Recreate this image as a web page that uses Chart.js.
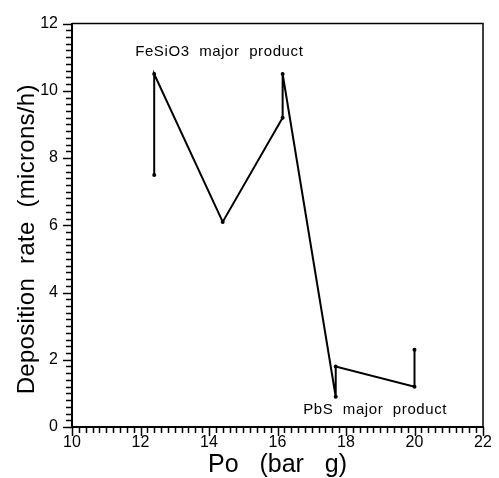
<!DOCTYPE html>
<html>
<head>
<meta charset="utf-8">
<script src="https://cdn.jsdelivr.net/npm/chart.js@4/dist/chart.umd.min.js"></script>
<style>
  html, body { margin: 0; padding: 0; background: #fff; }
</style>
</head>
<body>
<canvas id="chart" width="499" height="478"></canvas>
<script>
// Po (bar g) vs deposition rate (microns/h), traced in drawing order
const poValues = [12.4, 12.4, 14.4, 16.15, 16.15, 17.7, 17.7, 20.0, 20.0];
const rateValues = [7.5, 10.5, 6.1, 9.2, 10.5, 0.9, 1.8, 1.2, 2.3];
const xTicks = [10, 12, 14, 16, 18, 20, 22];
const yTicks = [0, 2, 4, 6, 8, 10, 12];
const noteLabels = ['FeSiO3  major  product', 'PbS  major  product'];

const FONT = '"Liberation Sans", Arial, sans-serif';

const framePlugin = {
  id: 'frame',
  afterDraw(chart, args, opts) {
    const { ctx, chartArea: a, scales: { x, y } } = chart;
    ctx.save();
    ctx.strokeStyle = '#000';
    ctx.fillStyle = '#000';

    // minor ticks every 0.2, longer on the labelled values
    ctx.lineWidth = 1.5;
    for (let i = 0; i <= 60; i++) {
      const len = i % 10 === 0 ? 9 : 6;
      const px = Math.round(x.getPixelForValue(10 + i * 0.2)) + 0.5;
      ctx.beginPath();
      ctx.moveTo(px, a.bottom);
      ctx.lineTo(px, a.bottom + len);
      ctx.stroke();
      const py = Math.round(y.getPixelForValue(i * 0.2)) + 0.5;
      ctx.beginPath();
      ctx.moveTo(a.left - len, py);
      ctx.lineTo(a.left, py);
      ctx.stroke();
    }

    // top and right sides of the box
    ctx.lineWidth = 1.5;
    ctx.beginPath();
    ctx.moveTo(a.left, a.top);
    ctx.lineTo(a.right, a.top);
    ctx.lineTo(a.right, a.bottom);
    ctx.stroke();

    // notes
    ctx.font = '15px ' + FONT;
    ctx.letterSpacing = '0.6px';
    ctx.textAlign = 'center';
    ctx.textBaseline = 'middle';
    opts.notes.forEach((n, i) => {
      ctx.fillText(noteLabels[i], x.getPixelForValue(n.x), y.getPixelForValue(n.y));
    });

    // y title
    ctx.font = '24px ' + FONT;
    ctx.letterSpacing = '0.3px';
    ctx.translate(27, (a.top + a.bottom) / 2 + 14);
    ctx.rotate(-Math.PI / 2);
    ctx.fillText('Deposition  rate  (microns/h)', 0, 0);
    ctx.restore();
  }
};

new Chart(document.getElementById('chart'), {
  type: 'line',
  data: {
    datasets: [{
      data: poValues.map((v, i) => ({ x: v, y: rateValues[i] })),
      borderColor: '#000',
      backgroundColor: '#000',
      borderWidth: 2,
      pointRadius: 2,
      pointBackgroundColor: '#000',
      pointBorderWidth: 0,
      tension: 0,
      fill: false
    }]
  },
  options: {
    responsive: false,
    animation: false,
    devicePixelRatio: 1,
    layout: { padding: { top: 18, right: 16, left: 0, bottom: 0 } },
    plugins: {
      legend: { display: false },
      tooltip: { enabled: false },
      frame: { notes: [{ x: 14.3, y: 11.15 }, { x: 18.85, y: 0.5 }] }
    },
    scales: {
      x: {
        type: 'linear',
        min: 10,
        max: 22,
        afterBuildTicks: s => { s.ticks = xTicks.map(v => ({ value: v })); },
        afterFit: s => { s.height = 51; },
        ticks: { color: '#000', padding: 6, font: { family: FONT, size: 16 } },
        grid: { display: false, drawTicks: false },
        border: { color: '#000', width: 2 },
        title: {
          display: true,
          text: 'Po   (bar   g)',
          color: '#000',
          padding: 0,
          font: { family: FONT, size: 25, lineHeight: 1 }
        }
      },
      y: {
        type: 'linear',
        min: 0,
        max: 12,
        afterBuildTicks: s => { s.ticks = yTicks.map(v => ({ value: v })); },
        afterFit: s => { s.width = 72; },
        ticks: { color: '#000', padding: 14, font: { family: FONT, size: 16 } },
        grid: { display: false, drawTicks: false },
        border: { color: '#000', width: 2 }
      }
    }
  },
  plugins: [framePlugin]
});
</script>
</body>
</html>
